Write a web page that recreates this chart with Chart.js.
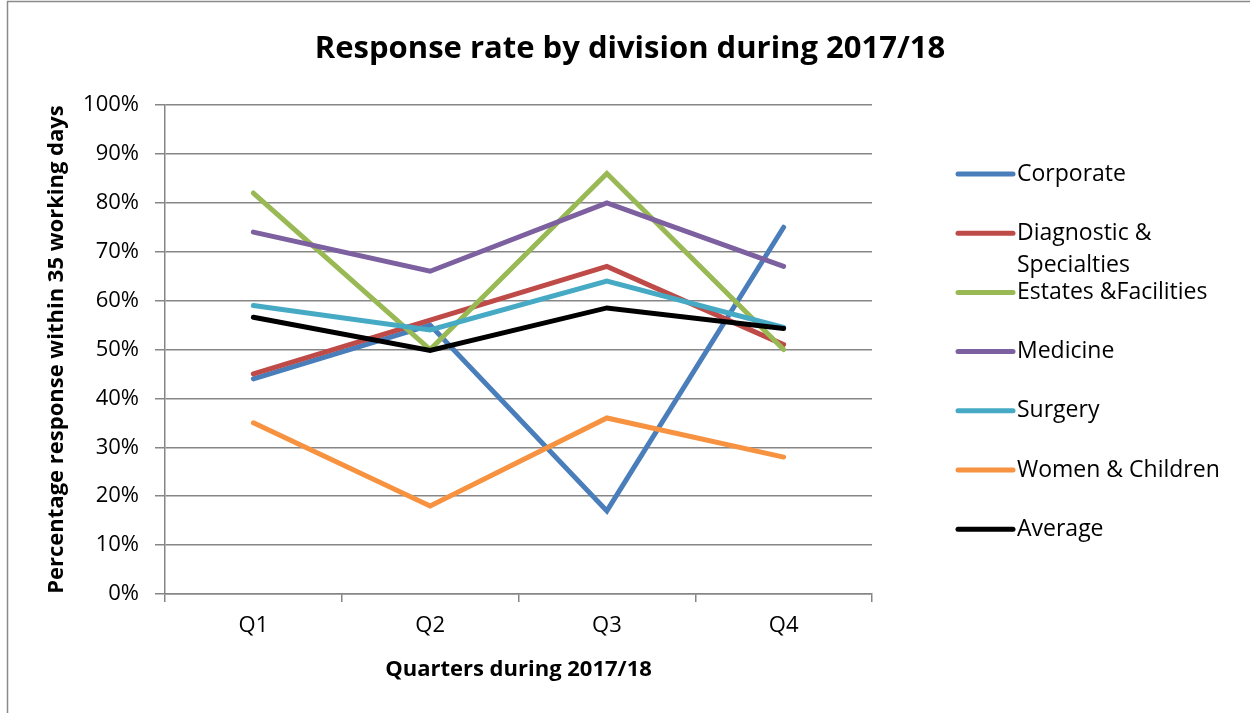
<!DOCTYPE html>
<html>
<head>
<meta charset="utf-8">
<script src="https://cdn.jsdelivr.net/npm/chart.js@4/dist/chart.umd.min.js"></script>
<style>
  html, body { margin: 0; padding: 0; background: #fff; }
  #c { display: block; }
</style>
</head>
<body>
<canvas id="c" width="1250" height="713"></canvas>
<script>
const chartTitle = 'Response rate by division during 2017/18';
const quarters = ['Q1', 'Q2', 'Q3', 'Q4'];
const seriesNames = ['Corporate', 'Diagnostic & Specialties', 'Estates &Facilities', 'Medicine', 'Surgery', 'Women & Children', 'Average'];
const corporate = [44, 55, 17, 75];
const diagnostic = [45, 56, 67, 51];
const estates = [82, 50, 86, 50];
const medicine = [74, 66, 80, 67];
const surgery = [59, 54, 64, 54.5];
const womenChildren = [35, 18, 36, 28];
const average = [56.6, 49.8, 58.5, 54.3];
const colors = ['#4A7EBB', '#BE4B48', '#98B954', '#7D60A0', '#46AAC5', '#F69240', '#000000'];
const yTicks = [0, 10, 20, 30, 40, 50, 60, 70, 80, 90, 100];

const FONT = '"Open Sans", "DejaVu Sans", sans-serif';
Chart.defaults.font.family = FONT;
Chart.defaults.color = '#000';

const allSeries = [corporate, diagnostic, estates, medicine, surgery, womenChildren, average];
const datasets = allSeries.map((d, i) => ({
  label: seriesNames[i],
  data: d,
  borderColor: colors[i],
  backgroundColor: colors[i],
  borderWidth: 5,
  pointRadius: 0,
  pointHoverRadius: 0,
  tension: 0,
  fill: false,
  borderCapStyle: 'round',
  borderJoinStyle: 'miter',
  order: allSeries.length - i
}));

const frame = {
  id: 'frame',
  beforeDraw(chart) {
    const ctx = chart.ctx;
    ctx.save();
    ctx.fillStyle = '#fff';
    ctx.fillRect(0, 0, chart.width, chart.height);
    ctx.strokeStyle = '#8a8a8a';
    ctx.lineWidth = 1.5;
    ctx.strokeRect(7.5, 1.5, 1400, 900);
    ctx.fillStyle = '#000';
    ctx.font = 'bold 31px ' + FONT;
    ctx.textAlign = 'center';
    ctx.textBaseline = 'middle';
    ctx.fillText(chartTitle, 630, 49);
    ctx.restore();
  }
};

const customLegend = {
  id: 'customLegend',
  afterDraw(chart) {
    const ctx = chart.ctx;
    const area = chart.chartArea;
    const x0 = area.right + 86;
    const x1 = x0 + 55;
    const tx = x1 + 4;
    const maxW = chart.width - tx - 8;
    const startY = area.top + 69;
    const step = 59.2;
    ctx.save();
    ctx.font = '23px ' + FONT;
    ctx.textBaseline = 'middle';
    ctx.textAlign = 'left';
    chart.data.datasets.forEach((ds, i) => {
      const y = startY + i * step;
      ctx.strokeStyle = ds.borderColor;
      ctx.lineWidth = 5;
      ctx.lineCap = 'round';
      ctx.beginPath();
      ctx.moveTo(x0, y);
      ctx.lineTo(x1, y);
      ctx.stroke();
      ctx.fillStyle = '#000';
      const words = ds.label.split(' ');
      const lines = [];
      let cur = '';
      words.forEach(w => {
        const test = cur ? cur + ' ' + w : w;
        if (ctx.measureText(test).width > maxW && cur) {
          lines.push(cur);
          cur = w;
        } else {
          cur = test;
        }
      });
      if (cur) lines.push(cur);
      lines.forEach((ln, j) => ctx.fillText(ln, tx, y + j * 32));
    });
    ctx.restore();
  }
};

new Chart(document.getElementById('c'), {
  type: 'line',
  data: { labels: quarters, datasets },
  options: {
    responsive: false,
    animation: false,
    devicePixelRatio: 1,
    layout: { padding: { left: 0, right: 378, top: 105, bottom: 0 } },
    plugins: {
      legend: { display: false },
      tooltip: { enabled: false },
      title: { display: false }
    },
    scales: {
      x: {
        type: 'category',
        offset: true,
        grid: {
          display: true,
          offset: true,
          drawOnChartArea: false,
          drawTicks: true,
          tickLength: 8,
          color: '#868686',
          lineWidth: 1.5
        },
        border: { display: true, color: '#868686', width: 1.5 },
        ticks: { font: { size: 22, family: FONT }, color: '#000', padding: 11, maxRotation: 0 },
        title: {
          display: true,
          text: 'Quarters during 2017/18',
          font: { size: 22, weight: 'bold', family: FONT },
          color: '#000',
          padding: { top: 0, bottom: 30 }
        },
        afterFit(scale) { scale.height = 713 - 594; }
      },
      y: {
        min: 0,
        max: 100,
        afterBuildTicks(scale) { scale.ticks = yTicks.map(v => ({ value: v })); },
        grid: {
          display: true,
          drawOnChartArea: true,
          drawTicks: true,
          tickLength: 10,
          color: '#868686',
          lineWidth: 1.5
        },
        border: { display: true, color: '#868686', width: 1.5 },
        ticks: {
          font: { size: 22, family: FONT },
          color: '#000',
          padding: 16,
          callback: v => v + '%'
        },
        title: {
          display: true,
          text: 'Percentage response within 35 working days',
          font: { size: 22, weight: 'bold', family: FONT },
          color: '#000',
          padding: { top: 44, bottom: 0 }
        },
        afterFit(scale) { scale.width = 165; }
      }
    }
  },
  plugins: [frame, customLegend]
});
</script>
</body>
</html>
